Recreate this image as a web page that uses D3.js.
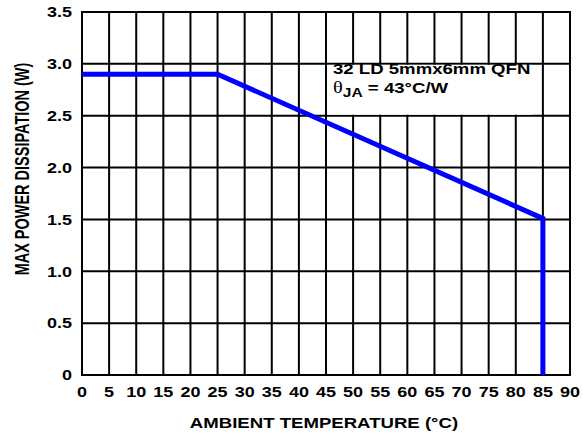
<!doctype html>
<html lang="en">
<head>
<meta charset="utf-8">
<script src="https://d3js.org/d3.v7.min.js"></script>
<style>
  body { margin: 0; background: #fff; }
  svg text { font-family: "Liberation Sans", Arial, sans-serif; font-weight: bold; fill: #000; }
  .grid line { stroke: #000; stroke-width: 2; }
</style>
</head>
<body>
<svg width="583" height="439"></svg>
<script>
  // derating curve: temperature (°C) vs max power (W)
  var temps = [0, 25, 85, 85];
  var power = [2.9, 2.9, 1.51, 0];
  var xTicks = [0, 5, 10, 15, 20, 25, 30, 35, 40, 45, 50, 55, 60, 65, 70, 75, 80, 85, 90];
  var yTicks = [0, 0.5, 1.0, 1.5, 2.0, 2.5, 3.0, 3.5];
  var yTickLabels = ["0", "0.5", "1.0", "1.5", "2.0", "2.5", "3.0", "3.5"];

  var SX = 1.2; // the original text looks stretched sideways

  var svg = d3.select("svg");
  var x = d3.scaleLinear().domain([0, 90]).range([82, 570]);
  var y = d3.scaleLinear().domain([0, 3.5]).range([375, 12]);

  function label(px, py, txt, size, anchor, rot, sx) {
    return svg.append("text")
      .attr("transform", "translate(" + px + "," + py + ") scale(" + (sx || SX) + ",1)" + (rot ? " rotate(" + rot + ")" : ""))
      .attr("dy", "0.35em")
      .attr("text-anchor", anchor)
      .style("font-size", size + "px")
      .text(txt);
  }

  var grid = svg.append("g").attr("class", "grid");
  grid.selectAll(".vx").data(xTicks).enter().append("line")
      .attr("x1", function(d) { return x(d); })
      .attr("x2", function(d) { return x(d); })
      .attr("y1", y(0) + 1).attr("y2", y(3.5) - 1);
  grid.selectAll(".hy").data(yTicks).enter().append("line")
      .attr("y1", function(d) { return y(d); })
      .attr("y2", function(d) { return y(d); })
      .attr("x1", x(0) - 1).attr("x2", x(90) + 1);

  // tick labels
  yTicks.forEach(function(d, i) { label(72, y(d), yTickLabels[i], 15, "end"); });
  xTicks.forEach(function(d) { label(x(d), 392, d, 15, "middle"); });

  // annotation box
  var box = svg.append("rect")
      .attr("x", x(45) + 1).attr("y", y(3.0) + 1)
      .attr("height", y(2.5) - y(3.0) - 2)
      .attr("fill", "#fff");
  var t1 = svg.append("text")
      .attr("transform", "translate(333,74) scale(" + SX + ",1)")
      .style("font-size", "15.5px")
      .text("32 LD 5mmx6mm QFN");
  var t2 = svg.append("text")
      .attr("transform", "translate(333,93) scale(" + SX + ",1)")
      .style("font-size", "15.5px");
  t2.append("tspan").style("font-family", "'Liberation Serif', 'Times New Roman', serif")
      .style("font-weight", "normal").style("font-size", "17px").text("θ");
  t2.append("tspan").attr("dy", 4).style("font-size", "13px").text("JA");
  t2.append("tspan").attr("dy", -4).text(" = 43°C/W");
  box.attr("width", 333 + t1.node().getComputedTextLength() * SX + 2 - (x(45) + 1));

  // curve
  var pts = temps.map(function(t, i) { return [t, power[i]]; });
  svg.append("path")
      .datum(pts)
      .attr("fill", "none")
      .attr("stroke", "#0000ff")
      .attr("stroke-width", 5)
      .attr("d", d3.line().x(function(d) { return x(d[0]); }).y(function(d) { return y(d[1]); }));

  // axis titles
  label(324, 423, "AMBIENT TEMPERATURE (°C)", 15.5, "middle");
  label(22, 169, "MAX POWER DISSIPATION (W)", 14.5, "middle", -90, 1.4);
</script>
</body>
</html>
